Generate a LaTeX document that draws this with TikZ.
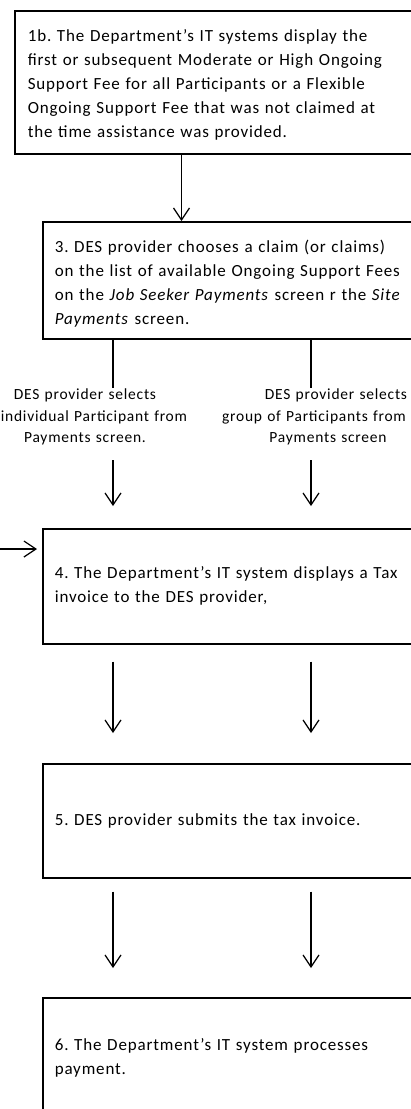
\documentclass[tikz,border=0pt]{standalone}
\usepackage{fontspec}
\setmainfont[LetterSpace=5]{Carlito}
\frenchspacing
\usetikzlibrary{arrows.meta}
\begin{document}
\begin{tikzpicture}[x=1pt,y=-1pt,
  box/.style={draw, line width=1.6pt, anchor=north west, align=left, inner ysep=0pt,
    font=\fontsize{17}{24}\selectfont},
  lbl/.style={align=center, text width=210pt, inner sep=1pt, font=\fontsize{15.5}{21.5}\selectfont},
  arr/.style={line width=1.2pt, -{Straight Barb[length=12pt,width=16pt,line width=1.2pt]}},
  conn/.style={line width=1.2pt}]
\useasboundingbox (0,0) rectangle (411,1109);
\clip (0,0) rectangle (411,1109);
\node[box, inner xsep=13pt, text width=374pt, minimum height=143pt] (b1) at (14,10)
 {\rule{0pt}{17pt}1b. The Department’s IT systems display the\\
  first or subsequent Moderate or High Ongoing\\
  Support Fee for all Participants or a Flexible\\
  Ongoing Support Fee that was not claimed at\\
  the time assistance was provided.};
\node[box, inner xsep=12pt, text width=380pt, minimum height=117pt] (b3) at (42,221)
 {\rule{0pt}{20pt}3. DES provider chooses a claim (or claims)\\
  on the list of available Ongoing Support Fees\\
  on the \textit{Job Seeker Payments} screen r the \textit{Site}\\
  \textit{Payments} screen.};
\node[lbl] (l1) at (85,417) {DES provider selects\\\hspace*{18pt}individual Participant from\\Payments screen.};
\node[lbl] (l2) at (324,417) {\hspace*{24pt}DES provider selects\\\hspace*{-20pt}group of Participants from\\\hspace*{8pt}Payments screen};
\node[box, inner xsep=12pt, text width=380pt, minimum height=115pt] (b4) at (42,528)
 {4. The Department’s IT system displays a Tax\\
  invoice to the DES provider,};
\node[box, inner xsep=12pt, text width=380pt, minimum height=114pt] (b5) at (42,763)
 {5. DES provider submits the tax invoice.};
\node[box, inner xsep=12pt, text width=380pt, minimum height=120pt] (b6) at (42,997)
 {6. The Department’s IT system processes\\
  payment.};
\coordinate (c0) at (181.5,0);
\coordinate (c1) at (113,0);
\coordinate (c2) at (311,0);
\coordinate (lin) at (-5,549);
\draw[arr] (b1.south -| c0) -- (b3.north -| c0);
\draw[conn] (b3.south -| c1) -- (l1.north -| c1);
\draw[conn] (b3.south -| c2) -- (l2.north -| c2);
\draw[arr, shorten <=14pt, shorten >=22pt] (l1.south -| c1) -- (b4.north -| c1);
\draw[arr, shorten <=14pt, shorten >=22pt] (l2.south -| c2) -- (b4.north -| c2);
\draw[arr, shorten >=5pt] (lin) -- (lin -| b4.west);
\draw[arr, shorten <=17pt, shorten >=30pt] (b4.south -| c1) -- (b5.north -| c1);
\draw[arr, shorten <=17pt, shorten >=30pt] (b4.south -| c2) -- (b5.north -| c2);
\draw[arr, shorten <=13pt, shorten >=29pt] (b5.south -| c1) -- (b6.north -| c1);
\draw[arr, shorten <=13pt, shorten >=29pt] (b5.south -| c2) -- (b6.north -| c2);
\end{tikzpicture}
\end{document}
